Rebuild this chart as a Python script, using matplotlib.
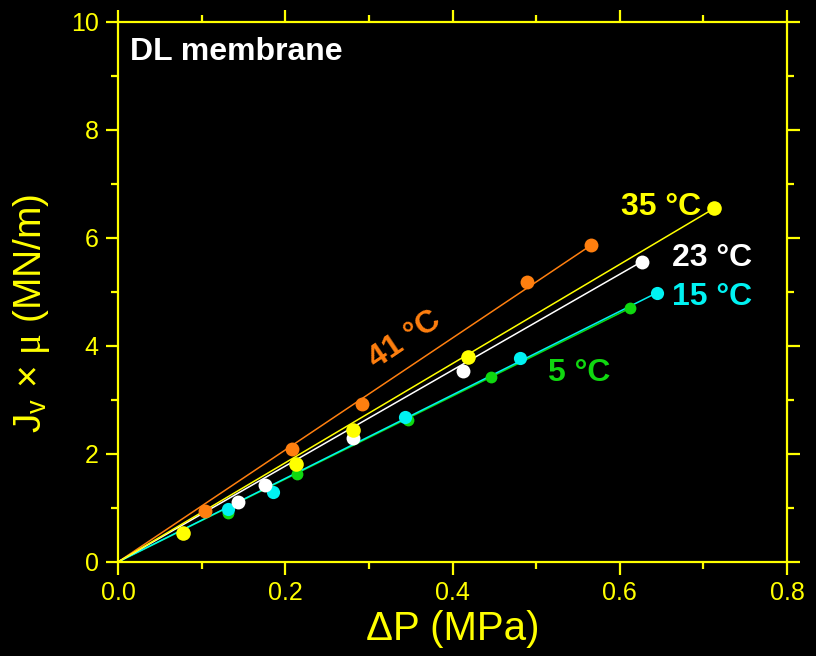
import matplotlib
matplotlib.use("Agg")
import matplotlib.pyplot as plt
from matplotlib.ticker import MultipleLocator

plt.rcParams['font.family'] = ['Liberation Sans', 'DejaVu Sans']
plt.rcParams['mathtext.fontset'] = 'custom'
plt.rcParams['mathtext.rm'] = 'Liberation Serif'
plt.rcParams['mathtext.sf'] = 'Liberation Sans'
plt.rcParams['mathtext.it'] = 'Liberation Serif:italic'

# data (dP in MPa, Jv*mu in MN/m)
dp_41 = [0.104, 0.208, 0.292, 0.489, 0.566]
j_41 = [0.94, 2.09, 2.93, 5.19, 5.87]

dp_35 = [0.078, 0.213, 0.281, 0.418, 0.713]
j_35 = [0.54, 1.82, 2.44, 3.79, 6.55]

dp_23 = [0.144, 0.176, 0.281, 0.413, 0.626]
j_23 = [1.12, 1.43, 2.30, 3.54, 5.56]

dp_15 = [0.131, 0.185, 0.343, 0.481, 0.645]
j_15 = [0.98, 1.29, 2.68, 3.77, 4.99]

dp_5 = [0.131, 0.214, 0.347, 0.446, 0.612]
j_5 = [0.90, 1.63, 2.63, 3.43, 4.70]

YEL = '#FFFF00'
ORA = '#FF7F0F'
CYA = '#00F2F2'
GRN = '#10D810'
WHT = '#FFFFFF'

fig = plt.figure(figsize=(8.16, 6.56), dpi=100, facecolor='black')
ax = fig.add_axes([0.1446, 0.1433, 0.8199, 0.8232], facecolor='black')

def series(dp, j, color, ms):
    # fit line through origin up to the last point
    ax.plot([0, dp[-1]], [0, j[-1]], '-', color=color, lw=1.1, zorder=2)
    ax.plot(dp, j, 'o', color=color, ms=ms, mec='none', zorder=3)

series(dp_5, j_5, GRN, 8.5)
series(dp_15, j_15, CYA, 9.5)
series(dp_41, j_41, ORA, 10)
series(dp_23, j_23, WHT, 10)
series(dp_35, j_35, YEL, 10.5)

lab = dict(fontsize=23, fontweight='bold')
ax.text(0.343, 4.11, '41 °C', color=ORA, rotation=34, ha='center', va='center', **lab)
ax.text(0.697, 6.57, '35 °C', color=YEL, ha='right', va='center', **lab)
ax.text(0.662, 5.63, '23 °C', color=WHT, ha='left', va='center', **lab)
ax.text(0.662, 4.91, '15 °C', color=CYA, ha='left', va='center', **lab)
ax.text(0.514, 3.50, '5 °C', color=GRN, ha='left', va='center', **lab)
ax.text(0.0143, 9.44, 'DL membrane', color=WHT, ha='left', va='center', **lab)

ax.set_xlim(0, 0.8)
ax.set_ylim(0, 10)
ax.xaxis.set_major_locator(MultipleLocator(0.2))
ax.xaxis.set_minor_locator(MultipleLocator(0.1))
ax.yaxis.set_major_locator(MultipleLocator(2))
ax.yaxis.set_minor_locator(MultipleLocator(1))
ax.xaxis.set_major_formatter(matplotlib.ticker.FormatStrFormatter('%.1f'))

for s in ax.spines.values():
    s.set_color(YEL)
    s.set_linewidth(1.6)
ax.tick_params(which='both', direction='out', colors=YEL, top=True, right=True,
               labelsize=18, width=1.6)
ax.tick_params(which='major', length=9, pad=5)
ax.tick_params(which='minor', length=5)

ax.set_xlabel('ΔP (MPa)', color=YEL, fontsize=29)
ax.xaxis.set_label_coords(0.5, -0.088)
ax.set_ylabel(r'J$_{\mathsf{v}}$ × $\mathrm{\mu}$ (MN/m)', color=YEL, fontsize=28)
ax.yaxis.set_label_coords(-0.098, 0.46)

fig.savefig('out.png', dpi=100, facecolor='black')
